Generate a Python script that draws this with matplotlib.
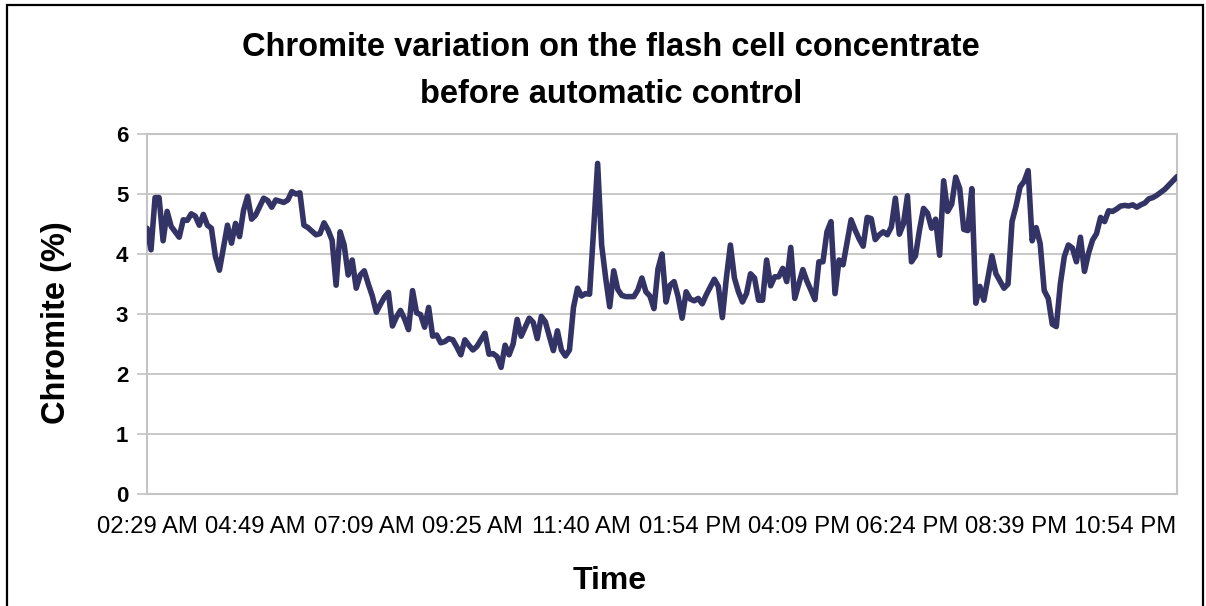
import matplotlib
matplotlib.use("Agg")
import matplotlib.pyplot as plt
from matplotlib.patches import Rectangle

plt.rcParams['font.family'] = ['Liberation Sans', 'DejaVu Sans']

title_lines = ["Chromite variation on the flash cell concentrate", "before automatic control"]
x_label = "Time"
y_label = "Chromite (%)"
tick_labels = ["02:29 AM", "04:49 AM", "07:09 AM", "09:25 AM", "11:40 AM",
               "01:54 PM", "04:09 PM", "06:24 PM", "08:39 PM", "10:54 PM"]
label_every = 27  # samples between labelled categories

chromite = [
    4.43, 4.07, 4.94, 4.94, 4.22, 4.71, 4.46, 4.37, 4.28, 4.57,
    4.56, 4.67, 4.63, 4.48, 4.66, 4.48, 4.43, 3.96, 3.73, 4.10,
    4.48, 4.18, 4.51, 4.29, 4.73, 4.96, 4.58, 4.65, 4.79, 4.93,
    4.89, 4.78, 4.90, 4.88, 4.86, 4.90, 5.04, 5.00, 5.02, 4.48,
    4.44, 4.38, 4.32, 4.34, 4.52, 4.40, 4.23, 3.48, 4.37, 4.15,
    3.65, 3.90, 3.43, 3.65, 3.72, 3.50, 3.30, 3.03, 3.16, 3.28,
    3.36, 2.80, 2.95, 3.06, 2.92, 2.74, 3.39, 3.02, 2.99, 2.78,
    3.11, 2.63, 2.65, 2.52, 2.54, 2.59, 2.57, 2.45, 2.32, 2.57,
    2.48, 2.40, 2.46, 2.57, 2.68, 2.33, 2.34, 2.29, 2.11, 2.48,
    2.32, 2.50, 2.91, 2.63, 2.78, 2.93, 2.86, 2.59, 2.96, 2.87,
    2.63, 2.39, 2.72, 2.40, 2.30, 2.40, 3.11, 3.43, 3.30, 3.34,
    3.33, 4.40, 5.51, 4.15, 3.60, 3.12, 3.72, 3.41, 3.31, 3.29,
    3.29, 3.29, 3.40, 3.60, 3.37, 3.30, 3.09, 3.75, 4.00, 3.20,
    3.48, 3.54, 3.29, 2.93, 3.37, 3.25, 3.22, 3.26, 3.17, 3.32,
    3.45, 3.58, 3.46, 2.94, 3.60, 4.15, 3.60, 3.37, 3.20, 3.34,
    3.67, 3.60, 3.23, 3.23, 3.90, 3.47, 3.62, 3.62, 3.76, 3.54,
    4.11, 3.26, 3.50, 3.74, 3.55, 3.40, 3.24, 3.87, 3.87, 4.37,
    4.54, 3.34, 3.90, 3.82, 4.20, 4.57, 4.40, 4.25, 4.13, 4.61,
    4.59, 4.24, 4.32, 4.37, 4.32, 4.45, 4.93, 4.33, 4.50, 4.97,
    3.87, 3.97, 4.40, 4.76, 4.68, 4.43, 4.58, 3.98, 5.22, 4.71,
    4.83, 5.28, 5.09, 4.41, 4.39, 5.09, 3.18, 3.46, 3.23, 3.60,
    3.97, 3.67, 3.55, 3.43, 3.50, 4.54, 4.80, 5.12, 5.21, 5.39,
    4.22, 4.44, 4.17, 3.39, 3.26, 2.83, 2.79, 3.50, 3.96, 4.15,
    4.10, 3.87, 4.28, 3.71, 4.01, 4.23, 4.34, 4.61, 4.54, 4.72,
    4.71, 4.75, 4.80, 4.81, 4.80, 4.82, 4.78, 4.82, 4.85, 4.92,
    4.94, 4.98, 5.03, 5.08, 5.15, 5.22, 5.29,
]
y_ticks = [0, 1, 2, 3, 4, 5, 6]

W, H = 1206, 606
fig = plt.figure(figsize=(W / 100, H / 100), dpi=100)
fig.patch.set_facecolor("white")

# outer frame
fig.add_artist(Rectangle((7 / W, -0.1), (1203 - 7) / W, 1.1 - 5 / H,
                         transform=fig.transFigure, fill=False,
                         edgecolor="black", linewidth=1.6))

ax = fig.add_axes([147 / W, 1 - 494 / H, (1177 - 147) / W, (494 - 134) / H])
samples = list(range(len(chromite)))
ax.plot(samples, chromite, color="#333366", linewidth=4.0,
        solid_joinstyle="round", solid_capstyle="round", zorder=3)

ax.set_xlim(0, len(chromite) - 1)
ax.set_ylim(0, 6)
ax.set_yticks(y_ticks)
ax.set_yticklabels([str(v) for v in y_ticks], fontsize=16, fontweight="bold")
pos = [i * label_every for i in range(len(tick_labels))]
ax.set_xticks(pos)
ax.set_xticklabels(tick_labels, fontsize=17.2)

grid_c = "#c4c4c4"
ax.grid(axis="y", color=grid_c, linewidth=1.3, zorder=0)
ax.grid(axis="x", visible=False)
for s in ax.spines.values():
    s.set_color(grid_c)
    s.set_linewidth(1.5)
ax.tick_params(axis="y", length=7.5, width=1.2, color=grid_c, pad=6)
ax.tick_params(axis="x", length=0, pad=16)

fig.text(611 / W, 1 - 56 / H, title_lines[0], ha="center", va="baseline",
         fontsize=23.5, fontweight="bold")
fig.text(611 / W, 1 - 103 / H, title_lines[1], ha="center", va="baseline",
         fontsize=23.5, fontweight="bold")
fig.text(610 / W, 1 - 589 / H, x_label, ha="center", va="baseline",
         fontsize=23, fontweight="bold")
fig.text(57 / W, 1 - 323 / H, y_label, ha="center", va="center",
         rotation=90, fontsize=23.5, fontweight="bold")

fig.savefig("out.png", dpi=100)
